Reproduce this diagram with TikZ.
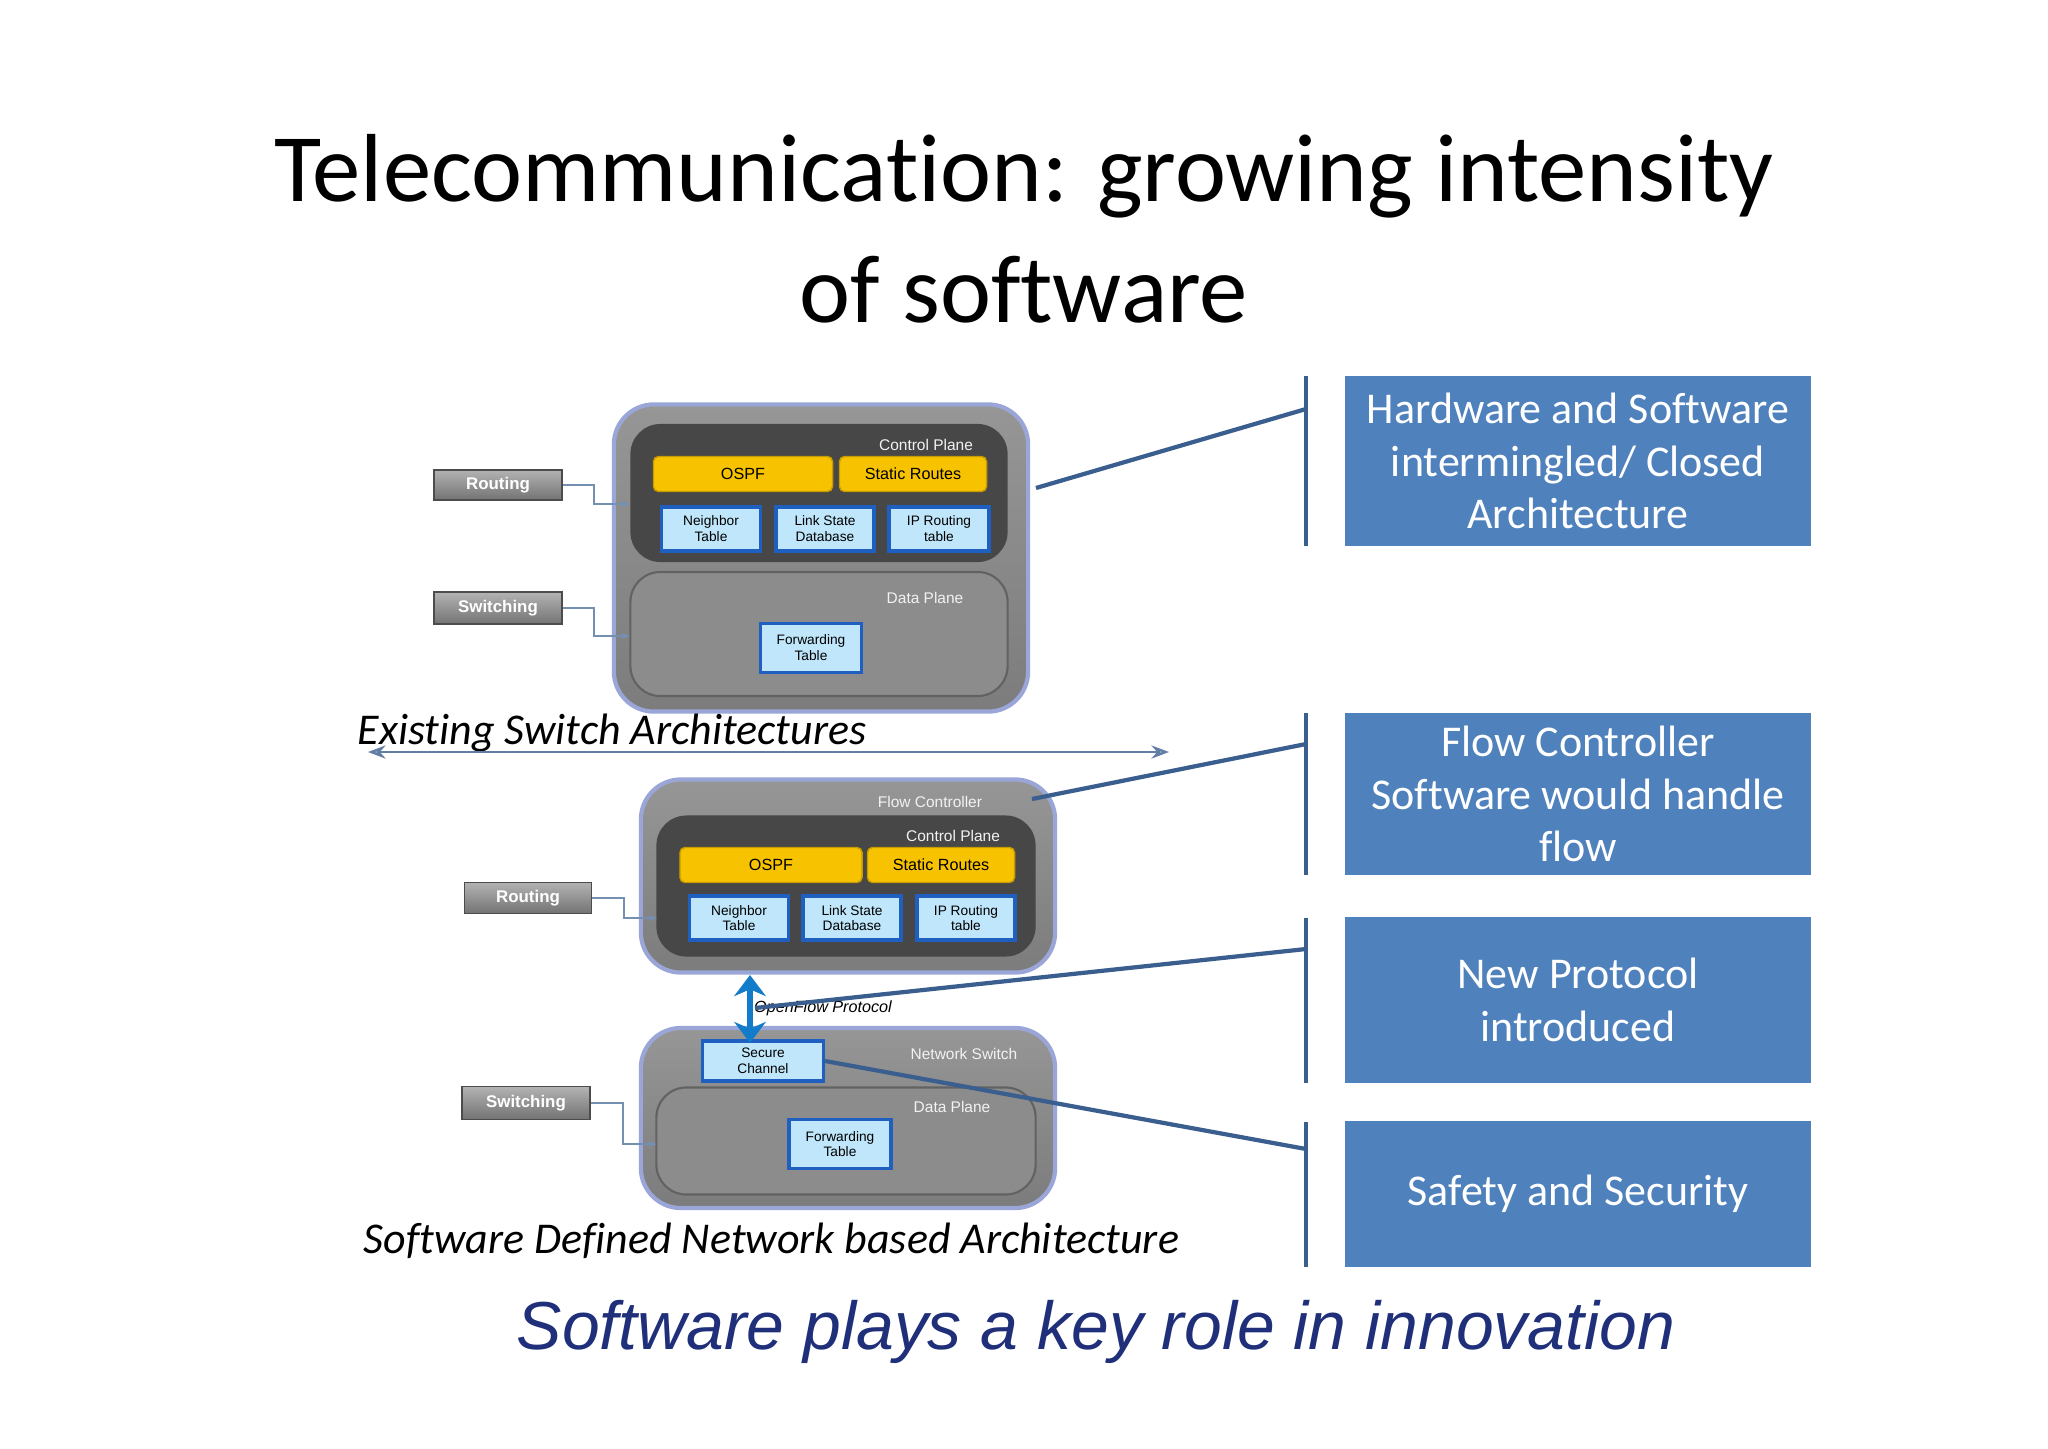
\documentclass[tikz,border=0pt]{standalone}
\usepackage{fontspec}
\setmainfont[Ligatures=NoCommon]{Carlito}
\newfontfamily\arialf{Liberation Sans}
\usetikzlibrary{arrows.meta}
\definecolor{outerg}{HTML}{7C7C7C}
\definecolor{outerb}{HTML}{9AA6D8}
\definecolor{darkp}{HTML}{474747}
\definecolor{datap}{HTML}{8C8C8C}
\definecolor{ospfy}{HTML}{F7C200}
\definecolor{tabb}{HTML}{BFE6FA}
\definecolor{tabe}{HTML}{1F5FBF}
\definecolor{boxblue}{HTML}{4F81BD}
\definecolor{leader}{HTML}{3A5F8F}
\definecolor{navy}{HTML}{1F2F7A}
\begin{document}
\begin{tikzpicture}[x=0.01cm,y=-0.01cm,
  outer/.style={draw=outerb,line width=1.2pt,rounded corners=0.4cm,top color=outerg!80,bottom color=outerg,inner sep=0},
  ctrl/.style={fill=darkp,rounded corners=0.3cm,inner sep=0},
  datapl/.style={fill=datap,draw=datap!70!black,line width=0.6pt,rounded corners=0.3cm,inner sep=0},
  yel/.style={fill=ospfy,draw=ospfy!80!black,rounded corners=0.05cm,inner sep=0,font=\arialf\fontsize{4.6}{5}\selectfont,minimum height=0.35cm},
  tab/.style={fill=tabb,draw=tabe,line width=0.9pt,inner sep=0,align=center,font=\arialf\fontsize{3.9}{4.5}\selectfont},
  lab/.style={draw=gray!60!black,top color=gray!60,bottom color=gray!90!black,text=white,inner sep=0,font=\arialf\bfseries\fontsize{4.8}{5}\selectfont},
  plab/.style={text=white!90!gray,font=\arialf\fontsize{4.4}{5}\selectfont,inner sep=0},
  conn/.style={draw=leader!70,line width=0.4pt,-{Stealth[length=2.5pt]}},
  bbox/.style={fill=boxblue,text=white,inner sep=0,align=center,minimum width=4.66cm,font=\fontsize{12.5}{15}\selectfont},
  lead/.style={draw=leader,line width=1.2pt},
  vline/.style={draw=leader,line width=1.4pt}]
\useasboundingbox (0,0) rectangle (2048,1448);
\fill[white] (0,0) rectangle (2048,1448);
% title
\node[font=\fontsize{27.5}{32}\selectfont] (t1) at (1024,176) {Telecommunication: growing intensity};
\node[font=\fontsize{27.5}{32}\selectfont] (t2) at (1024,290) {of software};
% top switch
\node[outer,minimum width=4.14cm,minimum height=3.07cm] (sw1) at (821,558) {};
\node[ctrl,minimum width=3.77cm,minimum height=1.38cm] (cp1) at (819,493) {};
\node[datapl,minimum width=3.77cm,minimum height=1.24cm] (dp1) at (819,634) {};
\node[plab] (cpl1) at (926,445) {Control Plane};
\node[plab] (dpl1) at (925,598) {Data Plane};
\node[yel,minimum width=1.79cm] (os1) at (743,474) {OSPF};
\node[yel,minimum width=1.47cm] (st1) at (913,474) {Static Routes};
\node[tab,minimum width=0.99cm,minimum height=0.44cm] (nb1) at (711,529) {Neighbor\\Table};
\node[tab,minimum width=0.98cm,minimum height=0.44cm] (ls1) at (825,529) {Link State\\Database};
\node[tab,minimum width=1.0cm,minimum height=0.44cm] (ip1) at (939,529) {IP Routing\\table};
\node[tab,minimum width=1.01cm,minimum height=0.49cm] (fw1) at (811,648) {Forwarding\\Table};
\node[lab,minimum width=1.28cm,minimum height=0.30cm] (ro1) at (498,485) {Routing};
\node[lab,minimum width=1.28cm,minimum height=0.32cm] (sw1l) at (498,608) {Switching};
\draw[conn] (ro1.east) -- (594,485) -- (594,504) -- (630,504);
\draw[conn] (sw1l.east) -- (594,608) -- (594,636) -- (630,636);
\node[font=\itshape\fontsize{12.5}{16}\selectfont,anchor=west,inner sep=0] (cap1) at (357,733) {Existing Switch Architectures};
\coordinate (al) at (368,752); \coordinate (ar) at (1169,752);
\draw[draw=leader!80,line width=0.7pt,{Stealth[length=5pt,open]}-{Stealth[length=5pt,open]}] (al) -- (ar);
% flow controller
\node[outer,minimum width=4.14cm,minimum height=1.93cm] (fc) at (848,876) {};
\node[plab] (fcl) at (930,802) {Flow Controller};
\node[ctrl,minimum width=3.79cm,minimum height=1.41cm] (cp2) at (846,886) {};
\node[plab] (cpl2) at (953,836) {Control Plane};
\node[yel,minimum width=1.82cm] (os2) at (771,865) {OSPF};
\node[yel,minimum width=1.47cm] (st2) at (941,865) {Static Routes};
\node[tab,minimum width=0.99cm,minimum height=0.44cm] (nb2) at (739,918) {Neighbor\\Table};
\node[tab,minimum width=0.98cm,minimum height=0.44cm] (ls2) at (852,918) {Link State\\Database};
\node[tab,minimum width=0.98cm,minimum height=0.44cm] (ip2) at (966,918) {IP Routing\\table};
\node[lab,minimum width=1.27cm,minimum height=0.31cm] (ro2) at (528,898) {Routing};
\draw[conn] (ro2.east) -- (624,898) -- (624,918) -- (657,918);
% network switch
\node[outer,minimum width=4.14cm,minimum height=1.80cm] (ns) at (848,1118) {};
\node[plab] (nsl) at (964,1054) {Network Switch};
\node[datapl,minimum width=3.79cm,minimum height=1.07cm] (dp2) at (846,1141) {};
\node[plab] (dpl2) at (952,1107) {Data Plane};
\node[tab,minimum width=1.21cm,minimum height=0.40cm] (sc) at (763,1061) {Secure\\Channel};
\node[tab,minimum width=1.02cm,minimum height=0.49cm] (fw2) at (840,1144) {Forwarding\\Table};
\node[lab,minimum width=1.28cm,minimum height=0.33cm] (sw2l) at (526,1103) {Switching};
\draw[conn] (sw2l.east) -- (623,1103) -- (623,1144) -- (657,1144);
\coordinate (oa) at (750,975); \coordinate (ob) at (750,1043);
\draw[draw=cyan!60!blue,line width=1.6pt,{Stealth[length=6pt,width=9pt]}-{Stealth[length=6pt,width=9pt]}] (oa) -- (ob);
\node[font=\arialf\itshape\fontsize{4.6}{5}\selectfont,inner sep=0] (ofp) at (823,1008) {OpenFlow Protocol};
\node[font=\itshape\fontsize{12.5}{16}\selectfont,anchor=west,inner sep=0] (cap2) at (363,1241) {Software Defined Network based Architecture};
% right side
\node[bbox,minimum height=1.69cm] (b1) at (1578,461) {Hardware and Software\\intermingled/ Closed\\Architecture};
\node[bbox,minimum height=1.62cm] (b2) at (1578,794) {Flow Controller\\Software would handle\\flow};
\node[bbox,minimum height=1.65cm] (b3) at (1578,1000) {New Protocol\\introduced};
\node[bbox,minimum height=1.45cm] (b4) at (1578,1194) {Safety and Security};
\coordinate (v1a) at (1306,376); \coordinate (v1b) at (1306,546);
\coordinate (v2a) at (1306,713); \coordinate (v2b) at (1306,875);
\coordinate (v3a) at (1306,918); \coordinate (v3b) at (1306,1083);
\coordinate (v4a) at (1306,1122); \coordinate (v4b) at (1306,1267);
\draw[vline] (v1a) -- (v1b); \draw[vline] (v2a) -- (v2b);
\draw[vline] (v3a) -- (v3b); \draw[vline] (v4a) -- (v4b);
\coordinate (l1) at (1306,409); \coordinate (l2) at (1306,744);
\coordinate (l3) at (1306,949); \coordinate (l4) at (1306,1149);
\coordinate (s1) at (1036,488); \coordinate (s2) at (1032,799);
\coordinate (s3) at (755,1008);
\draw[lead] (s1) -- (l1);
\draw[lead] (s2) -- (l2);
\draw[lead] (s3) -- (l3);
\draw[lead] (sc.east) -- (l4);
\node[font=\arialf\itshape\fontsize{19.3}{22}\selectfont,text=navy] (foot) at (1096,1332) {Software plays a key role in innovation};
\end{tikzpicture}
\end{document}
